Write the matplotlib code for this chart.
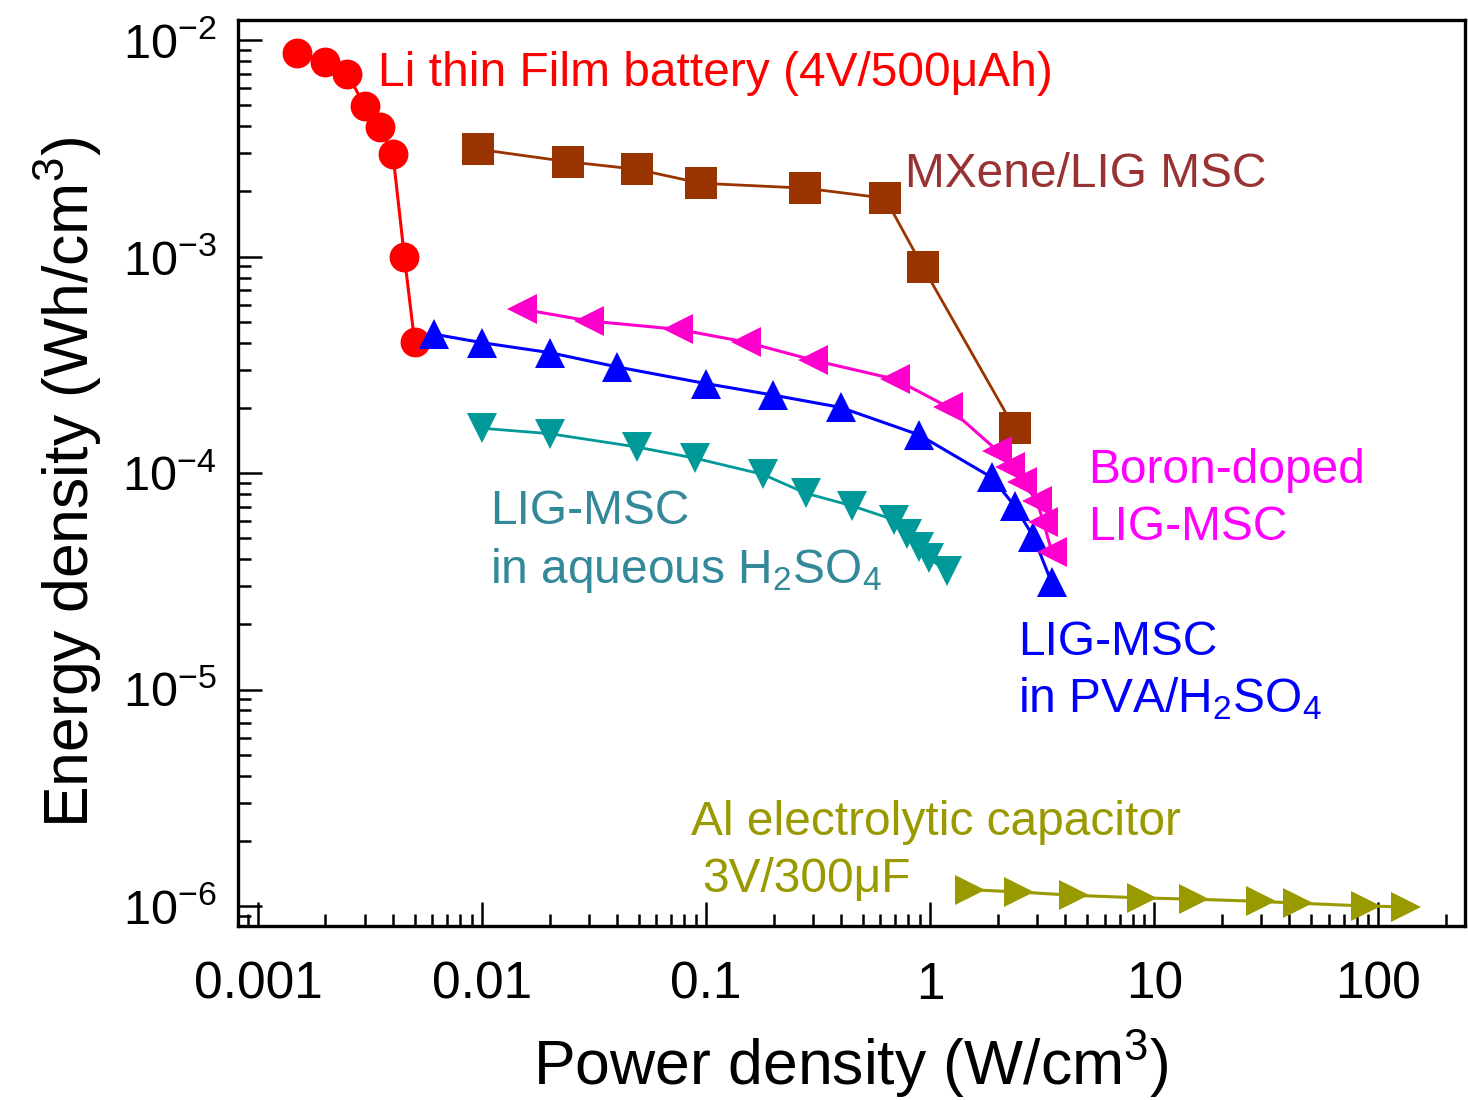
import matplotlib
matplotlib.use("Agg")
import matplotlib.pyplot as plt
from matplotlib.ticker import FuncFormatter, NullFormatter, LogLocator

plt.rcParams['font.family'] = ['Liberation Sans', 'DejaVu Sans']
plt.rcParams['mathtext.fontset'] = 'custom'
plt.rcParams['mathtext.rm'] = 'Liberation Sans'
plt.rcParams['mathtext.it'] = 'Liberation Sans:italic'
plt.rcParams['mathtext.bf'] = 'Liberation Sans:bold'
plt.rcParams['mathtext.default'] = 'regular'

# Li thin film battery (red circles)
li_x = [0.0015, 0.002, 0.0025, 0.003, 0.0035, 0.004, 0.0045, 0.005]
li_y = [8.7e-3, 7.9e-3, 7.0e-3, 4.95e-3, 3.96e-3, 2.97e-3, 1.0e-3, 4.03e-4]

# MXene/LIG MSC (brown squares)
mx_x = [0.0096, 0.0243, 0.049, 0.095, 0.276, 0.63, 0.93, 2.38]
mx_y = [3.13e-3, 2.74e-3, 2.53e-3, 2.18e-3, 2.07e-3, 1.86e-3, 8.9e-4, 1.61e-4]

# Boron-doped LIG-MSC (magenta left triangles)
bd_x = [0.0150, 0.0301, 0.0751, 0.150, 0.301, 0.70, 1.20, 1.99, 2.28, 2.58, 2.99, 3.20, 3.49]
bd_y = [5.72e-4, 5.04e-4, 4.61e-4, 4.03e-4, 3.32e-4, 2.71e-4, 2.02e-4,
        1.27e-4, 1.07e-4, 9.1e-5, 7.45e-5, 5.96e-5, 4.33e-5]

# LIG-MSC in PVA/H2SO4 (blue up triangles)
pva_x = [0.0061, 0.0100, 0.0200, 0.0401, 0.0997, 0.1995, 0.398, 0.893, 1.88, 2.38, 2.89, 3.48]
pva_y = [4.38e-4, 4.0e-4, 3.6e-4, 3.09e-4, 2.59e-4, 2.29e-4, 2.01e-4, 1.5e-4,
         9.55e-5, 7.05e-5, 5.08e-5, 3.13e-5]

# LIG-MSC in aqueous H2SO4 (teal down triangles)
aq_x = [0.0100, 0.0200, 0.0489, 0.0895, 0.179, 0.279, 0.447, 0.693, 0.789, 0.891, 0.99, 1.19]
aq_y = [1.61e-4, 1.52e-4, 1.32e-4, 1.17e-4, 9.86e-5, 8.06e-5, 7.06e-5,
        6.07e-5, 5.25e-5, 4.55e-5, 4.03e-5, 3.52e-5]

# Al electrolytic capacitor (olive right triangles)
al_x = [1.5, 2.5, 4.4, 8.8, 15, 30, 44, 88, 133]
al_y = [1.19e-6, 1.16e-6, 1.12e-6, 1.09e-6, 1.075e-6, 1.05e-6, 1.03e-6, 1.0e-6, 0.99e-6]

fig = plt.figure(figsize=(14.68, 11), dpi=100)
ax = fig.add_axes([0.1618, 0.1582, 0.8362, 0.8236])

ms = 22
ax.plot(mx_x, mx_y, '-s', color='#993300', lw=2, ms=23, mew=0, zorder=2)
ax.plot(aq_x, aq_y, '-v', color='#009999', lw=2, ms=ms, mew=0, zorder=3)
ax.plot(li_x, li_y, '-o', color='#FF0000', lw=2.2, ms=21.5, mew=0, zorder=4)
ax.plot(pva_x, pva_y, '-^', color='#0000FF', lw=2.2, ms=ms, mew=0, zorder=5)
ax.plot(bd_x, bd_y, '-<', color='#FF00CC', lw=2.2, ms=ms, mew=0, zorder=6)
ax.plot(al_x, al_y, '->', color='#999900', lw=2.2, ms=ms, mew=0, zorder=3)

ax.set_xscale('log')
ax.set_yscale('log')
ax.set_xlim(8.1e-4, 244)
ax.set_ylim(8.085e-7, 1.2375e-2)

ax.xaxis.set_major_locator(LogLocator(base=10))
ax.xaxis.set_major_formatter(FuncFormatter(lambda v, p: '{:g}'.format(v)))
ax.xaxis.set_minor_formatter(NullFormatter())
ax.yaxis.set_minor_formatter(NullFormatter())

for s in ax.spines.values():
    s.set_linewidth(2.4)
ax.tick_params(which='both', direction='in', top=False, right=False, width=1.8)
ax.tick_params(which='major', length=17)
ax.tick_params(which='minor', length=9)
ax.tick_params(axis='x', which='major', labelsize=37, pad=25)
ax.tick_params(axis='y', which='major', labelsize=35, pad=15)

ax.set_xlabel('Power density (W/cm$^{3}$)', fontsize=45)
ax.xaxis.set_label_coords(0.5, -0.113)
ax.set_ylabel('Energy density (Wh/cm$^{3}$)', fontsize=45)
ax.yaxis.set_label_coords(-0.109, 0.49)

fs = 34.5
tk = dict(transform=ax.transAxes, ha='left', va='baseline', fontsize=fs)
ax.text(0.1145, 0.9272, 'Li thin Film battery (4V/500\u03bcAh)', color='#FF0000', **tk)
ax.text(0.5438, 0.8157, 'MXene/LIG MSC', color='#993333', **tk)
ax.text(0.6929, 0.4890, 'Boron-doped', color='#FF00FF', **tk)
ax.text(0.6929, 0.4260, 'LIG-MSC', color='#FF00FF', **tk)
ax.text(0.2057, 0.4437, 'LIG-MSC', color='#33889A', **tk)
ax.text(0.2057, 0.3786, 'in aqueous H$_2$SO$_4$', color='#33889A', **tk)
ax.text(0.6358, 0.2991, 'LIG-MSC', color='#0000FF', **tk)
ax.text(0.6358, 0.2362, 'in PVA/H$_2$SO$_4$', color='#0000FF', **tk)
ax.text(0.3694, 0.1004, 'Al electrolytic capacitor', color='#999900', **tk)
ax.text(0.3784, 0.0375, '3V/300\u03bcF', color='#999900', **tk)

fig.savefig('out.png', dpi=100)
